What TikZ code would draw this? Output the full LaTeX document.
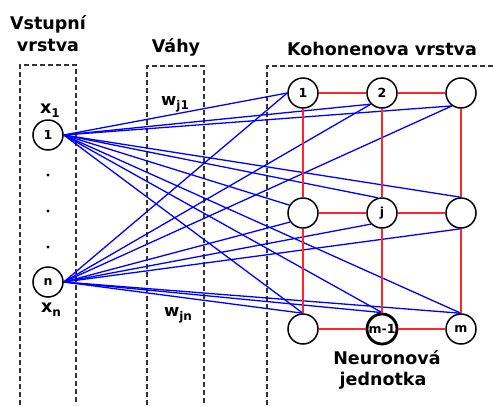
\documentclass[tikz,border=0pt]{standalone}
\usepackage{fontspec}
\setmainfont{DejaVu Sans}
\newcommand\lowsub[1]{\raisebox{-4pt}{\fontsize{12}{12}\selectfont #1}}
\begin{document}
\begin{tikzpicture}[x=1pt,y=-1pt,
  neuron/.style={circle,draw=black,line width=1.5pt,fill=white,minimum size=30pt,inner sep=0pt,font=\fontsize{12.5}{13}\selectfont\bfseries},
  title/.style={anchor=base,inner sep=0pt,font=\fontsize{17.5}{20}\selectfont\bfseries},
  varlabel/.style={anchor=base,inner sep=0pt,font=\fontsize{17.5}{20}\selectfont\bfseries},
  boxline/.style={draw=black!80,line width=1.2pt,dash pattern=on 5pt off 3pt},
  conn/.style={draw=blue,line width=1.3pt},
  grid/.style={draw=red!85,line width=1.5pt},
  dotmark/.style={circle,fill=black,inner sep=0pt,minimum size=3.2pt}]
\useasboundingbox (0,0) rectangle (493,405);
% dashed layer boxes
\draw[boxline] (20,405) -- (20,65) -- (76,65) -- (76,405);
\draw[boxline] (147,405) -- (147,66) -- (204,66) -- (204,405);
\draw[boxline] (267,405) -- (267,66) -- (493,66);
% titles
\node[title] (t1a) at (48,29) {Vstupní};
\node[title] (t1b) at (48,51) {vrstva};
\node[title] (t2) at (176,52) {Váhy};
\node[title] (t3) at (382,55) {Kohonenova vrstva};
\node[title] (t4a) at (387,364) {Neuronová};
\node[title] (t4b) at (383,385) {jednotka};
% input neurons
\node[neuron] (i1) at (48,135) {1};
\node[neuron] (in) at (48,282) {n};
\node[varlabel] (x1) at (50,113) {x\lowsub{1}};
\node[varlabel] (xn) at (51,312) {x\lowsub{n}};
\node[dotmark] (d1) at (48,175) {};
\node[dotmark] (d2) at (48,211) {};
\node[dotmark] (d3) at (48,247) {};
% weights
\node[varlabel,font=\fontsize{16.5}{20}\selectfont\bfseries] (w1) at (175,105) {w\lowsub{j1}};
\node[varlabel,font=\fontsize{16.5}{20}\selectfont\bfseries] (wn) at (178,316) {w\lowsub{jn}};
% Kohonen neurons
\node[neuron] (k1) at (303,93) {1};
\node[neuron] (k2) at (382,93) {2};
\node[neuron] (k3) at (461,93) {};
\node[neuron] (k4) at (303,213) {};
\node[neuron] (k5) at (382,213) {j};
\node[neuron] (k6) at (461,213) {};
\node[neuron] (k7) at (303,329) {};
\node[neuron,line width=2.8pt] (k8) at (382,329) {m-1};
\node[neuron] (k9) at (461,329) {m};
% connections from input 1
\draw[conn] (i1.east) -- (k1.180);
\draw[conn] (i1.east) -- (k2.225);
\draw[conn] (i1.east) -- (k3.235);
\draw[conn] (i1.east) -- (k4.150);
\draw[conn] (i1.east) -- (k5.105);
\draw[conn] (i1.east) -- (k6.north);
\draw[conn] (i1.east) -- (k7.north);
\draw[conn] (i1.east) -- (k8.north);
\draw[conn] (i1.east) -- (k9.north);
% connections from input n
\draw[conn] (in.east) -- (k1.180);
\draw[conn] (in.east) -- (k2.225);
\draw[conn] (in.east) -- (k3.235);
\draw[conn] (in.east) -- (k4.215);
\draw[conn] (in.east) -- (k5.225);
\draw[conn] (in.east) -- (k6.south);
\draw[conn] (in.east) -- (k7.north);
\draw[conn] (in.east) -- (k8.north);
\draw[conn] (in.east) -- (k9.north);
% lattice
\draw[grid] (k1.east) -- (k2.west);
\draw[grid] (k2.east) -- (k3.west);
\draw[grid] (k4.east) -- (k5.west);
\draw[grid] (k5.east) -- (k6.west);
\draw[grid] (k7.east) -- (k8.west);
\draw[grid] (k8.east) -- (k9.west);
\draw[grid] (k1.south) -- (k4.north);
\draw[grid] (k4.south) -- (k7.north);
\draw[grid] (k2.south) -- (k5.north);
\draw[grid] (k5.south) -- (k8.north);
\draw[grid] (k3.south) -- (k6.north);
\draw[grid] (k6.south) -- (k9.north);
\end{tikzpicture}
\end{document}
